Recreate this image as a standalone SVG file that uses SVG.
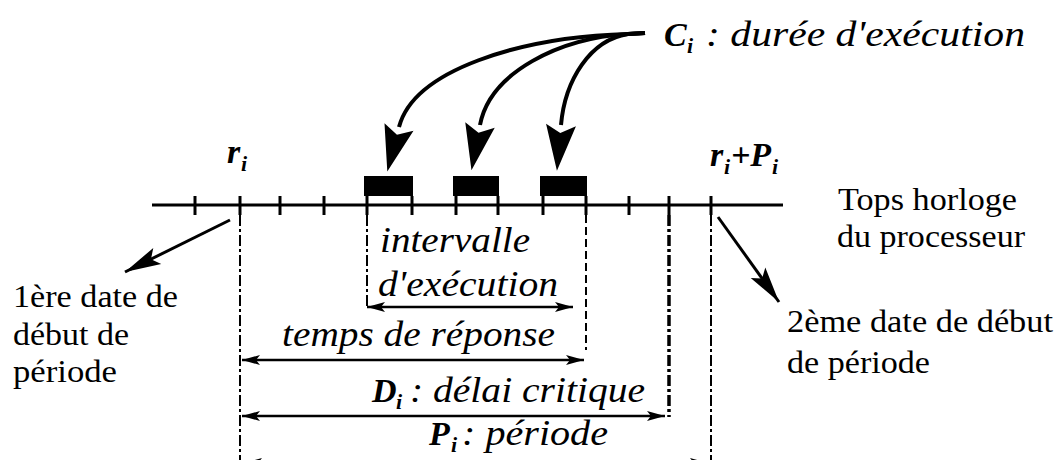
<svg xmlns="http://www.w3.org/2000/svg" width="1062" height="460" viewBox="0 0 1062 460">
<style>
  .ln{stroke:#000;fill:none}
  .tick{stroke:#000;stroke-width:3}
  .dim{stroke:#000;stroke-width:2.5;fill:none;marker-start:url(#dh);marker-end:url(#dh)}
  .vd{stroke:#000;stroke-width:2;fill:none;stroke-dasharray:11 3 3 3}
</style>
<defs>
  <marker id="big" markerUnits="userSpaceOnUse" markerWidth="60" markerHeight="40" refX="0" refY="0" viewBox="-5 -20 60 40" orient="auto" overflow="visible">
    <path d="M0,-15 L46,0 L0,15 L8,0 Z" fill="#000"/>
  </marker>
  <marker id="mid" markerUnits="userSpaceOnUse" markerWidth="50" markerHeight="30" refX="36" refY="0" viewBox="-5 -15 50 30" orient="auto" overflow="visible">
    <path d="M0,-9 L36,0 L0,9 L7,0 Z" fill="#000"/>
  </marker>
  <marker id="dh" markerUnits="userSpaceOnUse" markerWidth="30" markerHeight="20" refX="18" refY="0" viewBox="-5 -10 30 20" orient="auto-start-reverse" overflow="visible">
    <path d="M0,-5 L18,0 L0,5 L4,0 Z" fill="#000"/>
  </marker>
</defs>

<g id="timeline">
  <line class="ln" x1="152" y1="205" x2="783" y2="205" stroke-width="3"/>
  <g class="tick">
    <line x1="195" y1="196" x2="195" y2="215"/>
    <line x1="240" y1="196" x2="240" y2="215"/>
    <line x1="280" y1="196" x2="280" y2="215"/>
    <line x1="324" y1="196" x2="324" y2="215"/>
    <line x1="367" y1="196" x2="367" y2="215"/>
    <line x1="412" y1="196" x2="412" y2="215"/>
    <line x1="456" y1="196" x2="456" y2="215"/>
    <line x1="498" y1="196" x2="498" y2="215"/>
    <line x1="543" y1="196" x2="543" y2="215"/>
    <line x1="586" y1="196" x2="586" y2="215"/>
    <line x1="629" y1="196" x2="629" y2="215"/>
    <line x1="669" y1="196" x2="669" y2="215"/>
    <line x1="711" y1="196" x2="711" y2="215"/>
  </g>
</g>

<g id="block1"><rect x="364" y="176" width="49" height="20" fill="#000"/></g>
<g id="block2"><rect x="453" y="176" width="46" height="20" fill="#000"/></g>
<g id="block3"><rect x="540" y="176" width="47" height="20" fill="#000"/></g>

<g id="label-ri">
  <text font-family="Liberation Serif" font-style="italic" font-weight="bold" font-size="34" x="227" y="163">r</text>
  <text font-family="Liberation Serif" font-style="italic" font-weight="bold" font-size="22" x="241" y="171">i</text>
</g>
<g id="label-riPi">
  <text font-family="Liberation Serif" font-style="italic" font-weight="bold" font-size="34" x="710" y="166">r</text>
  <text font-family="Liberation Serif" font-style="italic" font-weight="bold" font-size="22" x="724" y="174">i</text>
  <text font-family="Liberation Serif" font-style="italic" font-weight="bold" font-size="34" x="731" y="166">+P</text>
  <text font-family="Liberation Serif" font-style="italic" font-weight="bold" font-size="22" x="772" y="174">i</text>
</g>
<g id="label-Ci">
  <text font-family="Liberation Serif" font-style="italic" font-weight="bold" font-size="34" x="664" y="46">C</text>
  <text font-family="Liberation Serif" font-style="italic" font-weight="bold" font-size="22" x="687" y="53">i</text>
  <text font-family="Liberation Serif" font-style="italic" font-size="36" x="706" y="46" textLength="319" lengthAdjust="spacingAndGlyphs">: durée d'exécution</text>
</g>
<g id="label-tops">
  <text font-family="Liberation Serif" font-size="32" x="838" y="210" textLength="179" lengthAdjust="spacingAndGlyphs">Tops horloge</text>
  <text font-family="Liberation Serif" font-size="32" x="837" y="247" textLength="188" lengthAdjust="spacingAndGlyphs">du processeur</text>
</g>
<g id="label-first">
  <text font-family="Liberation Serif" font-size="32" x="13" y="307" textLength="165" lengthAdjust="spacingAndGlyphs">1ère date de</text>
  <text font-family="Liberation Serif" font-size="32" x="13" y="345" textLength="116" lengthAdjust="spacingAndGlyphs">début de</text>
  <text font-family="Liberation Serif" font-size="32" x="13" y="382" textLength="104" lengthAdjust="spacingAndGlyphs">période</text>
</g>
<g id="label-second">
  <text font-family="Liberation Serif" font-size="32" x="787" y="332" textLength="266" lengthAdjust="spacingAndGlyphs">2ème date de début</text>
  <text font-family="Liberation Serif" font-size="32" x="787" y="373" textLength="143" lengthAdjust="spacingAndGlyphs">de période</text>
</g>
<g id="label-intervalle">
  <text font-family="Liberation Serif" font-style="italic" font-size="36" x="380" y="252" textLength="150" lengthAdjust="spacingAndGlyphs">intervalle</text>
  <text font-family="Liberation Serif" font-style="italic" font-size="36" x="378" y="296" textLength="180" lengthAdjust="spacingAndGlyphs">d'exécution</text>
</g>
<g id="label-reponse">
  <text font-family="Liberation Serif" font-style="italic" font-size="36" x="282" y="346" textLength="273" lengthAdjust="spacingAndGlyphs">temps de réponse</text>
</g>
<g id="label-Di">
  <text font-family="Liberation Serif" font-style="italic" font-weight="bold" font-size="34" x="372" y="402">D</text>
  <text font-family="Liberation Serif" font-style="italic" font-weight="bold" font-size="22" x="396" y="409">i</text>
  <text font-family="Liberation Serif" font-style="italic" font-size="36" x="410" y="402" textLength="235" lengthAdjust="spacingAndGlyphs">: délai critique</text>
</g>
<g id="label-Pi">
  <text font-family="Liberation Serif" font-style="italic" font-weight="bold" font-size="34" x="429" y="445">P</text>
  <text font-family="Liberation Serif" font-style="italic" font-weight="bold" font-size="22" x="451" y="452">i</text>
  <text font-family="Liberation Serif" font-style="italic" font-size="36" x="462" y="445" textLength="146" lengthAdjust="spacingAndGlyphs">: période</text>
</g>

<g id="connectors">
  <line class="vd" x1="240" y1="215" x2="240" y2="460"/>
  <line class="vd" x1="367" y1="215" x2="367" y2="307"/>
  <line class="ln" x1="586" y1="215" x2="586" y2="350" stroke-width="2" stroke-dasharray="8 4"/>
  <line class="ln" x1="669" y1="215" x2="669" y2="417" stroke-width="3.5" stroke-dasharray="11 3 3 3"/>
  <line class="vd" x1="711" y1="215" x2="711" y2="460"/>
  <line class="dim" x1="367" y1="307" x2="573" y2="307"/>
  <line class="dim" x1="242" y1="360" x2="584" y2="360"/>
  <line class="dim" x1="242" y1="416" x2="665" y2="416"/>
  <line class="dim" x1="244" y1="463" x2="708" y2="463"/>
  <path class="ln" stroke-width="4" d="M645,33 L628,34 C520,37 414,70 399,127" marker-end="url(#big)"/>
  <path class="ln" stroke-width="4" d="M645,33 L628,34 C560,38 490,72 480,125" marker-end="url(#big)"/>
  <path class="ln" stroke-width="4" d="M645,33 L628,34 C590,40 565,80 561,125" marker-end="url(#big)"/>
  <line class="ln" stroke-width="3" x1="230" y1="220" x2="125" y2="272" marker-end="url(#mid)"/>
  <line class="ln" stroke-width="3" x1="718" y1="217" x2="779" y2="302" marker-end="url(#mid)"/>
</g>
</svg>
